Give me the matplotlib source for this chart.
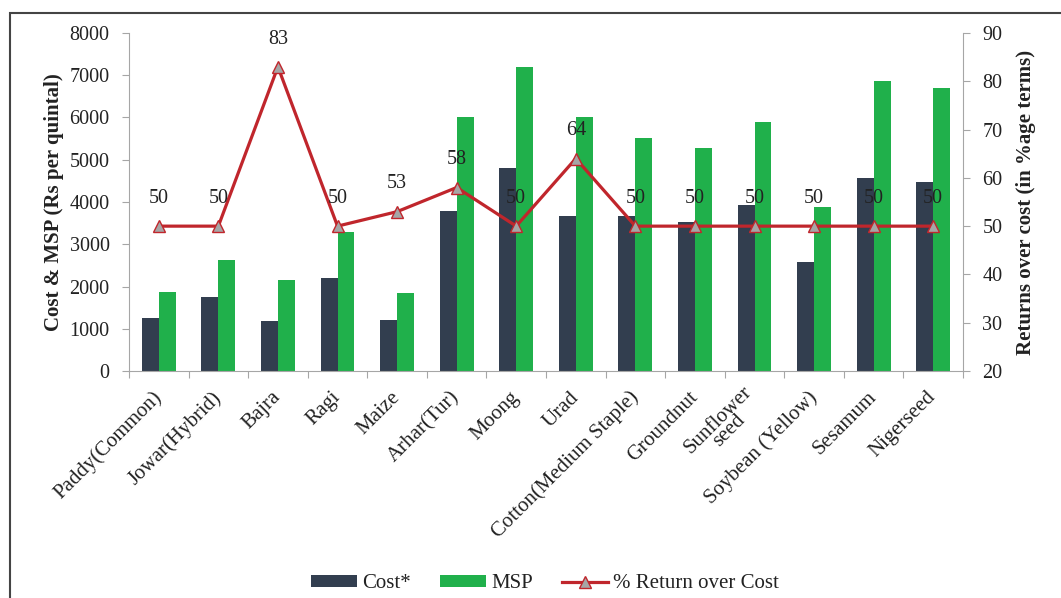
import matplotlib
matplotlib.use("Agg")
import matplotlib.pyplot as plt
import numpy as np
from matplotlib.patches import Rectangle

crops = ["Paddy(Common)", "Jowar(Hybrid)", "Bajra", "Ragi", "Maize", "Arhar(Tur)",
         "Moong", "Urad", "Cotton(Medium Staple)", "Groundnut", "Sunflower\nseed",
         "Soybean (Yellow)", "Sesamum", "Nigerseed"]
cost = [1245, 1746, 1175, 2194, 1213, 3796, 4797, 3660, 3676, 3515, 3921, 2587, 4570, 4462]
msp = [1868, 2620, 2150, 3295, 1850, 6000, 7196, 6000, 5515, 5275, 5885, 3880, 6855, 6695]
returns = [50, 50, 83, 50, 53, 58, 50, 64, 50, 50, 50, 50, 50, 50]

plt.rcParams["font.family"] = ["Liberation Serif", "DejaVu Serif"]

fig = plt.figure(figsize=(10.61, 5.98), dpi=100)
ax = fig.add_axes([129 / 1061, 1 - 371 / 598, (963 - 129) / 1061, (371 - 33) / 598])
ax2 = ax.twinx()

x = np.arange(len(crops))
w = 0.285
dark = "#323E4F"
green = "#20B04B"
red = "#C0262C"
grey = "#A6A6A6"
txt = "#222222"

b1 = ax.bar(x - w / 2, cost, w, color=dark, label="Cost*")
b2 = ax.bar(x + w / 2, msp, w, color=green, label="MSP")
ln, = ax2.plot(x, returns, color=red, lw=2.3, marker="^", markersize=9,
               markerfacecolor="#A6A6A6", markeredgecolor=red, markeredgewidth=1,
               label="% Return over Cost")
for xi, r in zip(x, returns):
    ax2.annotate(str(r), (xi, r), xytext=(0, 20), textcoords="offset points",
                 ha="center", va="center", fontsize=14.5, color=txt)

ax.set_xlim(-0.5, len(crops) - 0.5)
ax.set_ylim(0, 8000)
ax.set_yticks(range(0, 8001, 1000))
ax2.set_ylim(20, 90)
ax2.set_yticks(range(20, 91, 10))

ax.set_xticks(np.arange(-0.5, len(crops), 1.0))
ax.set_xticklabels([])
ax.set_xticks(x, minor=True)
labels = ax.set_xticklabels(crops, minor=True, rotation=45, ha="right", va="center",
                            rotation_mode="anchor", fontsize=15, color=txt)
for lab in labels:
    lab.set_multialignment("center")
    lab.set_linespacing(0.75)
ax.tick_params(axis="x", which="minor", length=0, pad=17)
ax.tick_params(axis="x", which="major", length=5, color=grey)
ax.tick_params(axis="y", labelsize=14.5, color=grey, length=5, pad=9, labelcolor=txt)
ax2.tick_params(axis="y", labelsize=14.5, color=grey, length=5, pad=9, labelcolor=txt)

for a in (ax, ax2):
    a.spines["top"].set_visible(False)
    for s in ("left", "right", "bottom"):
        a.spines[s].set_color(grey)
ax.spines["right"].set_visible(False)
ax2.spines["left"].set_visible(False)
ax2.spines["bottom"].set_visible(False)

ax.set_ylabel("Cost & MSP (Rs per quintal)", fontsize=15, fontweight="bold", labelpad=4, color=txt)
ax2.set_ylabel("Returns over cost (in %age terms)", fontsize=15, fontweight="bold", labelpad=10, color=txt)

fig.legend([b1, b2, ln], ["Cost*", "MSP", "% Return over Cost"], loc="center",
           bbox_to_anchor=(545 / 1061, 1 - 584 / 598), ncol=3, frameon=False,
           fontsize=15, handlelength=2.2, handleheight=0.55, columnspacing=1.4,
           handletextpad=0.25, labelcolor=txt)

fig.patches.append(Rectangle((10 / 1061, -0.2), 1.2, 1.2 - 13 / 598, transform=fig.transFigure,
                             fill=False, edgecolor="#444444", lw=1.5, clip_on=False))

fig.savefig("out.png", dpi=100)
